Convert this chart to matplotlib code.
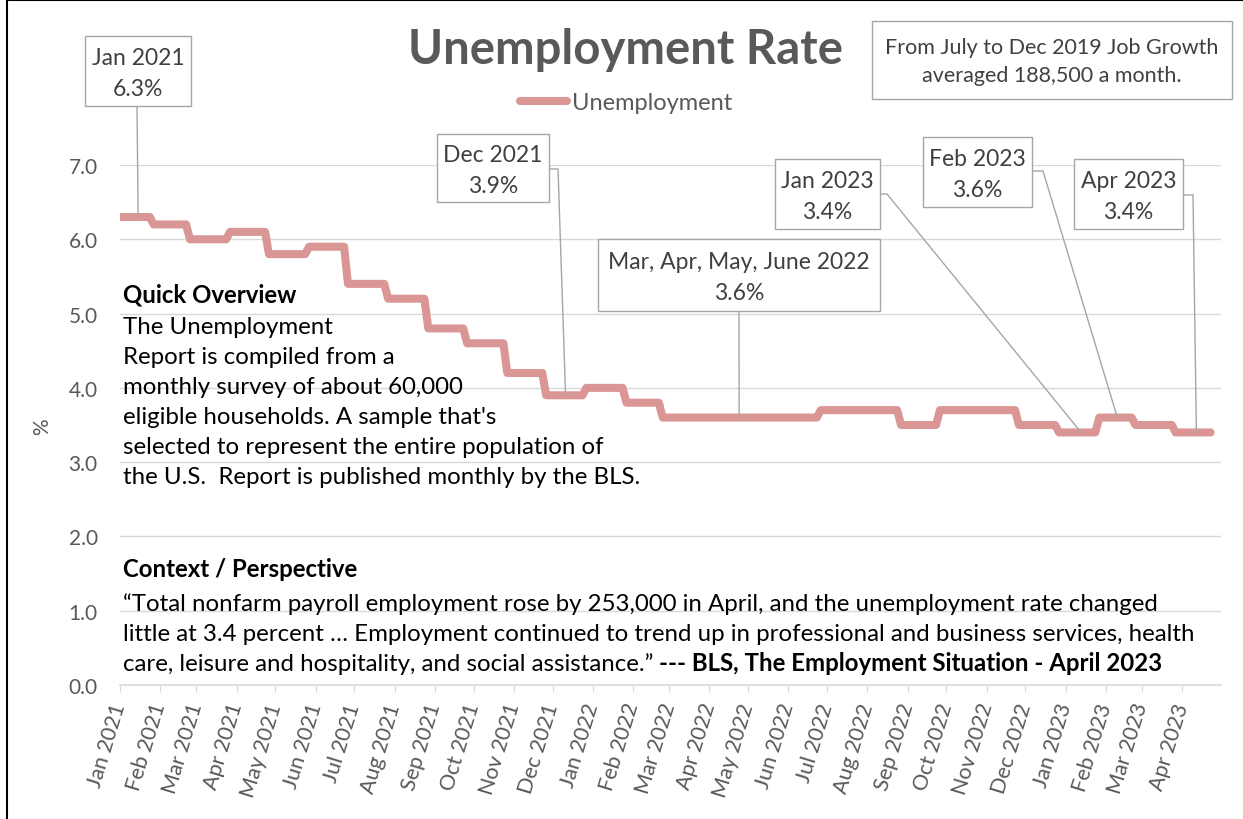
import matplotlib.pyplot as plt
import matplotlib.dates as mdates
import pandas as pd
from matplotlib.patches import Rectangle
from matplotlib.lines import Line2D

plt.rcParams['font.family'] = ['Lato', 'DejaVu Sans']

# data
months = ["Jan 2021", "Feb 2021", "Mar 2021", "Apr 2021", "May 2021", "Jun 2021",
          "Jul 2021", "Aug 2021", "Sep 2021", "Oct 2021", "Nov 2021", "Dec 2021",
          "Jan 2022", "Feb 2022", "Mar 2022", "Apr 2022", "May 2022", "Jun 2022",
          "Jul 2022", "Aug 2022", "Sep 2022", "Oct 2022", "Nov 2022", "Dec 2022",
          "Jan 2023", "Feb 2023", "Mar 2023", "Apr 2023"]
rates = [6.3, 6.2, 6.0, 6.1, 5.8, 5.9, 5.4, 5.2, 4.8, 4.6, 4.2, 3.9,
         4.0, 3.8, 3.6, 3.6, 3.6, 3.6, 3.7, 3.7, 3.5, 3.7, 3.7, 3.5,
         3.4, 3.6, 3.5, 3.4]
yticks = [0.0, 1.0, 2.0, 3.0, 4.0, 5.0, 6.0, 7.0]

title = "Unemployment Rate"
note = "From July to Dec 2019 Job Growth\naveraged 188,500 a month."
overview_head = "Quick Overview"
overview_lines = ["The Unemployment",
                  "Report is compiled from a",
                  "monthly survey of about 60,000",
                  "eligible households. A sample that's",
                  "selected to represent the entire population of",
                  "the U.S.  Report is published monthly by the BLS."]
context_head = "Context / Perspective"
context_lines = ["\u201cTotal nonfarm payroll employment rose by 253,000 in April, and the unemployment rate changed",
                 "little at 3.4 percent \u2026 Employment continued to trend up in professional and business services, health",
                 "care, leisure and hospitality, and social assistance.\u201d"]
context_source = "--- BLS, The Employment Situation - April 2023"

dates = pd.to_datetime(months, format="%b %Y")
x_min, x_max = pd.Timestamp("2021-01-01"), pd.Timestamp("2023-05-01")

# each value is held from a few days before its month until a week before the next
starts = [max(d - pd.Timedelta(days=5), x_min) for d in dates]
ends = list(dates[1:]) + [x_max]
xs, ys = [], []
for s, e, v in zip(starts, ends, rates):
    xs += [s, e - pd.Timedelta(days=8)]
    ys += [v, v]

W, H = 1243, 820
fig = plt.figure(figsize=(W / 100, H / 100), dpi=100)


def fx(x):
    return x / W


def fy(y):
    return 1 - y / H


ax = fig.add_axes([fx(120), fy(686), (1221 - 120) / W, (686 - 166) / H])
line_color = "#d99694"
ax.plot(xs, ys, color=line_color, lw=5.8, solid_joinstyle="round",
        solid_capstyle="round", label="Unemployment", zorder=3)

ax.set_xlim(x_min, x_max)
ax.set_ylim(0, 7.0)
ax.set_yticks(yticks)
ax.set_yticklabels([f"{t:.1f}" for t in yticks])
ax.set_xticks(dates)
ax.set_xticklabels(months, rotation=73, ha="right", va="center",
                   rotation_mode="anchor")
ax.grid(axis="y", color="#d9d9d9", lw=1)
ax.set_axisbelow(True)
for s in ["top", "right", "left"]:
    ax.spines[s].set_visible(False)
ax.spines["bottom"].set_color("#d9d9d9")
ax.spines["bottom"].set_linewidth(1.2)
ax.tick_params(axis="y", length=0, pad=16, labelsize=15, labelcolor="#595959")
ax.tick_params(axis="x", length=5, color="#d9d9d9", pad=8, labelsize=15.5,
               labelcolor="#595959")

fig.text(fx(42), fy(427), "%", rotation=90, ha="center", va="center",
         fontsize=15, color="#595959")

# title and legend
fig.text(fx(625), fy(50), title, ha="center", va="center", fontsize=34,
         fontweight="bold", color="#595959")
fig.legend(loc="center left", bbox_to_anchor=(fx(520), fy(104)), frameon=False,
           fontsize=17, labelcolor="#595959", handlelength=2.0,
           handletextpad=0.2, borderpad=0, borderaxespad=0)

box_edge = "#a6a6a6"
text_dark = "#404040"


def box(x0, y0, x1, y1, text, size=16.5, spacing=1.6, dy=2):
    fig.add_artist(Rectangle((fx(x0), fy(y1)), (x1 - x0) / W, (y1 - y0) / H,
                             transform=fig.transFigure, facecolor="white",
                             edgecolor=box_edge, lw=1, zorder=5))
    fig.text(fx((x0 + x1) / 2), fy((y0 + y1) / 2 + dy), text, ha="center",
             va="center", fontsize=size, color=text_dark, linespacing=spacing,
             zorder=6)


box(872, 22, 1232, 100, note, size=15.5, spacing=1.45, dy=1)

# callouts: label, month index, day in month, box, leader start points (px)
callouts = [
    (None, 0, 14, (85, 37, 191, 107), [(137, 107)]),
    (None, 11, 10, (437, 135, 549, 203), [(549, 170), (558, 170)]),
    ("Mar, Apr, May, June 2022", 15, 23, (598, 240, 880, 312), [(739, 312)]),
    (None, 24, 12, (775, 160, 880, 230), [(880, 195), (887, 195)]),
    (None, 25, 9, (923, 138, 1032, 208), [(1032, 172), (1043, 172)]),
    (None, 27, 11, (1074, 160, 1183, 230), [(1183, 196), (1193, 196)]),
]
for label, i, day, (x0, y0, x1, y1), pts in callouts:
    name = label if label else months[i]
    box(x0, y0, x1, y1, f"{name}\n{rates[i]:.1f}%")
    tx, ty = ax.transData.transform(
        (mdates.date2num(dates[i] + pd.Timedelta(days=day)), rates[i]))
    lx = [fx(p[0]) for p in pts] + [tx / W]
    ly = [fy(p[1]) for p in pts] + [ty / H]
    fig.add_artist(Line2D(lx, ly, transform=fig.transFigure, color=box_edge,
                          lw=1, zorder=4))

# text blocks
body_size = 17.3
fig.text(fx(123), fy(303), overview_head, fontsize=body_size, fontweight="bold",
         va="baseline", color="black")
for k, s in enumerate(overview_lines):
    fig.text(fx(123), fy(334 + 30 * k), s, fontsize=body_size, va="baseline",
             color="black")

fig.text(fx(123), fy(577), context_head, fontsize=body_size, fontweight="bold",
         va="baseline", color="black")
last = None
for k, s in enumerate(context_lines):
    last = fig.text(fx(123), fy(611 + 30 * k), s, fontsize=body_size,
                    va="baseline", color="black")
fig.canvas.draw()
bb = last.get_window_extent()
fig.text(bb.x1 / W + 6 / W, fy(611 + 60), context_source, fontsize=body_size,
         fontweight="bold", va="baseline", color="black")

# outer border
fig.add_artist(Rectangle((fx(7), fy(830)), (1250 - 7) / W, (830 - 1) / H,
                         transform=fig.transFigure, fill=False,
                         edgecolor="black", lw=1.5))

fig.savefig("out.png", dpi=100)
